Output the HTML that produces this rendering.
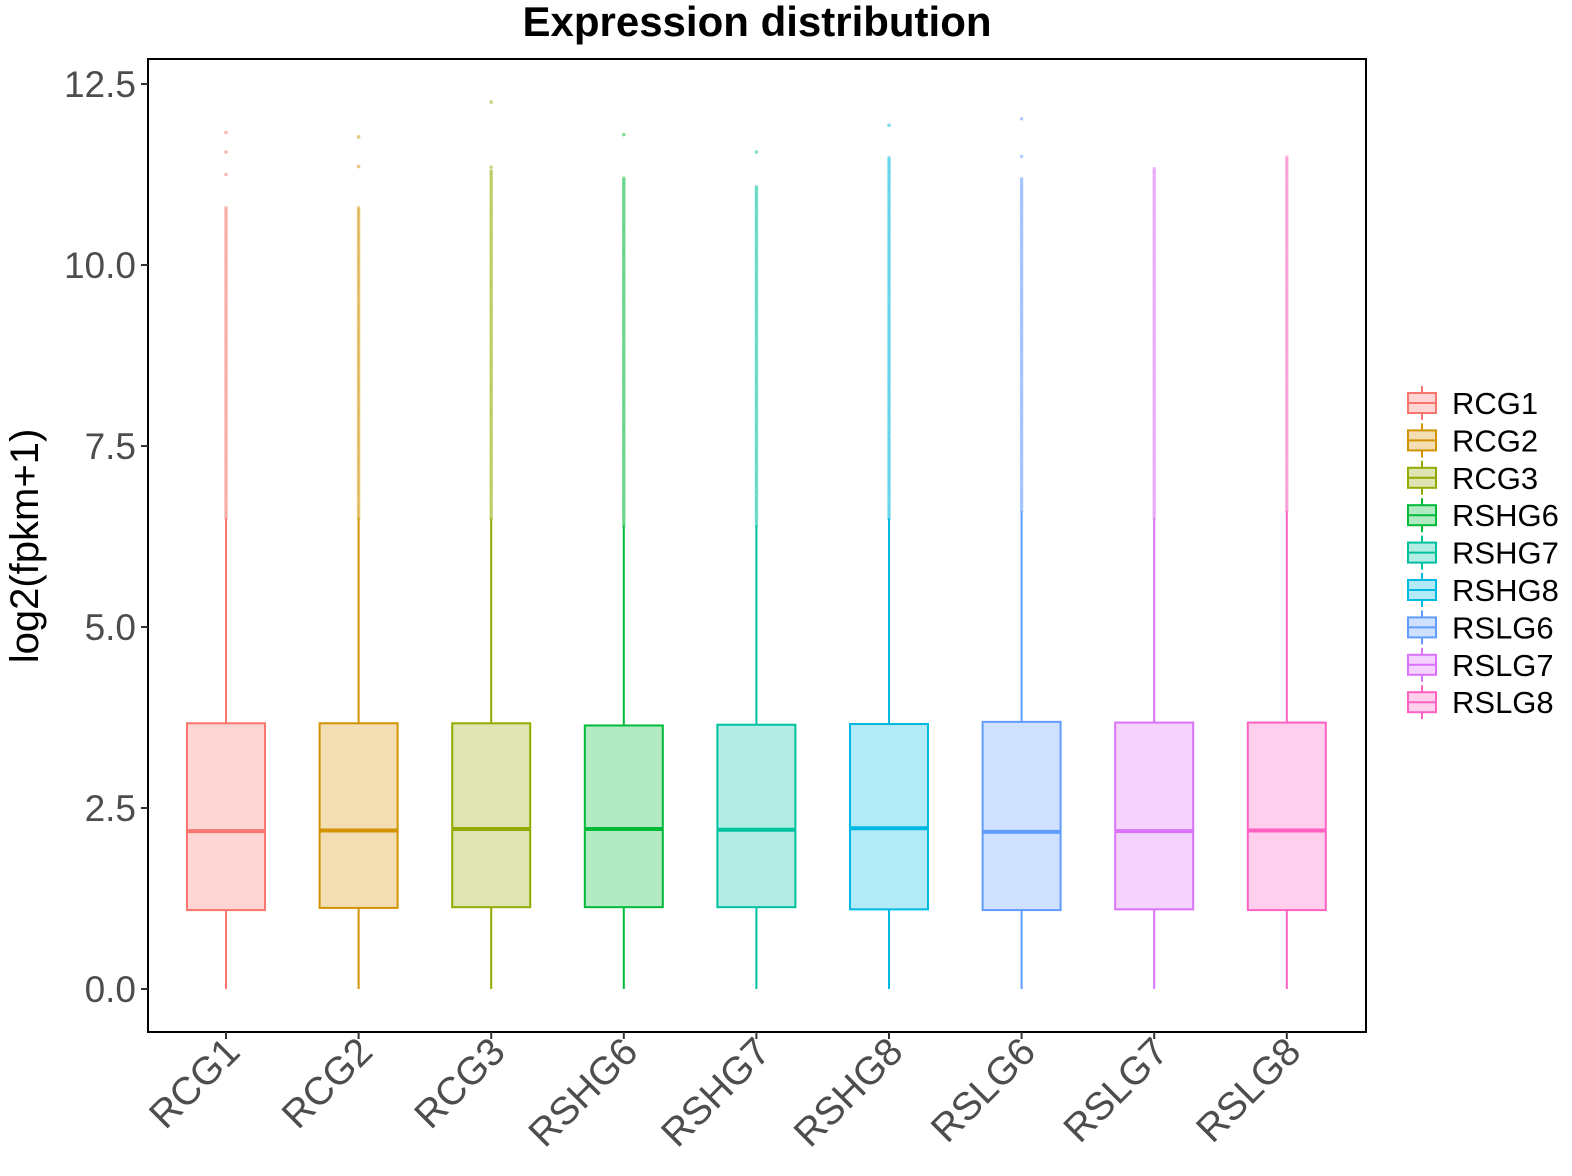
<!DOCTYPE html>
<html><head><meta charset="utf-8"><style>
body{margin:0;background:#fff;}
svg{display:block;font-family:"Liberation Sans",Arial,sans-serif;}
</style></head><body>
<svg id="chart" width="1572" height="1176" viewBox="0 0 1572 1176">
<text x="757" y="36" text-anchor="middle" font-size="42" font-weight="bold">Expression distribution</text>
<text transform="translate(38,546) rotate(-90)" text-anchor="middle" font-size="40">log2(fpkm+1)</text>
<rect x="148" y="59" width="1218" height="973" fill="none" stroke="#000" stroke-width="2"/>
<g id="marks"></g>
<g id="legend"></g>
</svg>
<script>
const categories=["RCG1","RCG2","RCG3","RSHG6","RSHG7","RSHG8","RSLG6","RSLG7","RSLG8"];
const colors=["#F8766D","#D39200","#93AA00","#00BA38","#00C19F","#00B9E3","#619CFF","#DB72FB","#FF61C3"];
const whiskerLow=[0,0,0,0,0,0,0,0,0];
const q1=[1.09,1.12,1.13,1.13,1.13,1.10,1.09,1.10,1.09];
const medians=[2.18,2.19,2.21,2.21,2.20,2.22,2.17,2.18,2.19];
const q3=[3.67,3.67,3.67,3.64,3.65,3.66,3.69,3.68,3.68];
const whiskerHigh=[6.5,6.5,6.5,6.4,6.4,6.5,6.6,6.5,6.6];
const denseMax=[10.8,10.8,11.3,11.2,11.1,11.5,11.2,11.35,11.5];
const sparseOutliers=[[11.25,11.56,11.83],[11.36,11.77],[11.35,12.25],[11.8],[11.56],[11.93],[11.5,12.02],[],[]];
const yTicks=[0,2.5,5,7.5,10,12.5];
const yTickLabels=["0.0","2.5","5.0","7.5","10.0","12.5"];

const NS="http://www.w3.org/2000/svg";
const y=v=>989-v*72.4;
const x=i=>226+i*132.6;
const boxW=78;
const marks=document.getElementById('marks');
const svg=document.getElementById('chart');
function mk(tag,attrs,parent){const e=document.createElementNS(NS,tag);for(const k in attrs)e.setAttribute(k,attrs[k]);parent.appendChild(e);return e;}

yTicks.forEach((t,i)=>{
  const tk=mk('line',{x1:141,x2:148,y1:y(t),y2:y(t),stroke:'#333','stroke-width':2},svg);
  
  
  const lb=mk('text',{x:136,y:y(t)+13,'text-anchor':'end','font-size':37,fill:'#4d4d4d'},svg);
  lb.textContent=yTickLabels[i];
  
  
});

categories.forEach((c,i)=>{
  const cx=x(i),col=colors[i];
  const g=mk('g',{},marks);
  
  
  for(let v=whiskerHigh[i];v<=denseMax[i];v+=0.03){
    mk('circle',{cx:cx,cy:y(v),r:1.8,fill:col,opacity:0.45},g);
  }
  sparseOutliers[i].forEach(v=>{
    const d=mk('circle',{cx:cx,cy:y(v),r:1.8,fill:col,opacity:0.5},g);
    
    
  });
  mk('line',{x1:cx,x2:cx,y1:y(q3[i]),y2:y(whiskerHigh[i]),stroke:col,'stroke-width':2},g);
  mk('line',{x1:cx,x2:cx,y1:y(q1[i]),y2:y(whiskerLow[i]),stroke:col,'stroke-width':2},g);
  mk('rect',{x:cx-boxW/2,y:y(q3[i]),width:boxW,height:y(q1[i])-y(q3[i]),fill:col,'fill-opacity':0.3,stroke:col,'stroke-width':2},g);
  mk('line',{x1:cx-boxW/2,x2:cx+boxW/2,y1:y(medians[i]),y2:y(medians[i]),stroke:col,'stroke-width':4},g);
  const tk=mk('line',{x1:cx,x2:cx,y1:1032,y2:1039,stroke:'#333','stroke-width':2},svg);
  
  
  const lb=mk('text',{transform:`translate(${cx+16},1054) rotate(-45)`,'text-anchor':'end','font-size':39,fill:'#4d4d4d'},svg);
  lb.textContent=c;
  
  
  const ly=403+i*37.4;
  const lg=mk('g',{},document.getElementById('legend'));
  
  
  mk('line',{x1:1422,x2:1422,y1:ly-17,y2:ly+17,stroke:col,'stroke-width':2},lg);
  mk('rect',{x:1408,y:ly-10,width:28,height:20,fill:'#fff',stroke:'none'},lg);
  mk('rect',{x:1408,y:ly-10,width:28,height:20,fill:col,'fill-opacity':0.3,stroke:col,'stroke-width':2},lg);
  mk('line',{x1:1408,x2:1436,y1:ly,y2:ly,stroke:col,'stroke-width':2},lg);
  const lt=mk('text',{x:1452,y:ly+11,'font-size':31,fill:'#000'},lg);
  lt.textContent=c;
});
</script>
</body></html>
